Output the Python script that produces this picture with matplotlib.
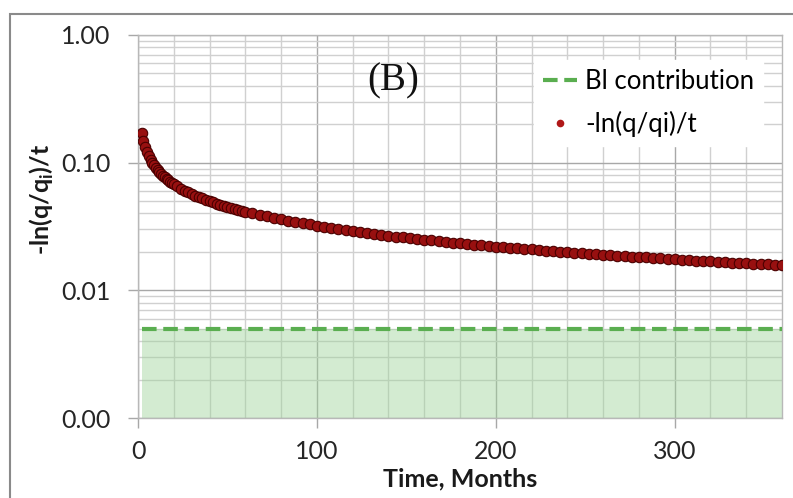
import matplotlib
matplotlib.use("Agg")
import matplotlib.pyplot as plt
from matplotlib.patches import Rectangle
from matplotlib.ticker import FixedLocator, FuncFormatter, LogLocator, NullFormatter

plt.rcParams["font.family"] = ["Lato", "DejaVu Sans"]
plt.rcParams["mathtext.fontset"] = "custom"
plt.rcParams["mathtext.bf"] = "Lato:bold"

# * Data
months = [
    2, 3, 4, 5, 6, 7, 8, 9, 10, 11, 12, 13, 14, 15, 16, 17, 18, 19, 20,
    22, 24, 26, 28, 30, 32, 34, 36, 38, 40, 42, 44, 46, 48, 50, 52, 54, 56, 58, 60,
    64, 68, 72, 76, 80, 84, 88, 92, 96, 100, 104, 108, 112, 116, 120,
    124, 128, 132, 136, 140, 144, 148, 152, 156, 160, 164, 168, 172, 176, 180,
    184, 188, 192, 196, 200, 204, 208, 212, 216, 220, 224, 228, 232, 236, 240,
    244, 248, 252, 256, 260, 264, 268, 272, 276, 280, 284, 288, 292, 296, 300,
    304, 308, 312, 316, 320, 324, 328, 332, 336, 340, 344, 348, 352, 356, 360,
]
decline_rate = [
    0.1710, 0.1473, 0.1320, 0.1210, 0.1125, 0.1057, 0.1001, 0.0953, 0.0912, 0.0877,
    0.0845, 0.0817, 0.0791, 0.0768, 0.0747, 0.0728, 0.0710, 0.0694, 0.0678,
    0.0651, 0.0627, 0.0605, 0.0585, 0.0568, 0.0552, 0.0537, 0.0524, 0.0511, 0.0499,
    0.0488, 0.0478, 0.0468, 0.0459, 0.0451, 0.0443, 0.0435, 0.0427, 0.0420, 0.0414,
    0.0401, 0.0389, 0.0379, 0.0369, 0.0359, 0.0351, 0.0342, 0.0335, 0.0328, 0.0321,
    0.0314, 0.0308, 0.0302, 0.0297, 0.0291, 0.0286, 0.0281, 0.0277, 0.0272, 0.0268,
    0.0264, 0.0260, 0.0256, 0.0253, 0.0249, 0.0246, 0.0243, 0.0239, 0.0236, 0.0233,
    0.0231, 0.0228, 0.0225, 0.0223, 0.0220, 0.0218, 0.0215, 0.0213, 0.0211, 0.0209,
    0.0207, 0.0204, 0.0202, 0.0201, 0.0199, 0.0197, 0.0195, 0.0193, 0.0192, 0.0190,
    0.0188, 0.0187, 0.0185, 0.0184, 0.0182, 0.0181, 0.0179, 0.0178, 0.0176, 0.0175,
    0.0174, 0.0172, 0.0171, 0.0170, 0.0169, 0.0168, 0.0166, 0.0165, 0.0164, 0.0163,
    0.0162, 0.0161, 0.0160, 0.0159, 0.0158,
]
bi_contribution = 0.005
y_ticks = [0.001, 0.01, 0.1, 1.0]
x_ticks = [0, 100, 200, 300]

fig = plt.figure(figsize=(7.93, 4.98), dpi=100)
ax = fig.add_axes([138 / 793, 80 / 498, 644 / 793, 383 / 498])

# * Frame around the whole picture
fig.patches.append(Rectangle((10 / 793, -0.1), 1.2, (498 - 14) / 498 + 0.1,
                             transform=fig.transFigure, fill=False,
                             edgecolor="#8a8a8a", linewidth=1.5))

# * BI contribution band + dashed line
bi_line = [bi_contribution] * len(months)
ax.fill_between(months, 0.001, bi_line, color="#9fd49a", alpha=0.45, linewidth=0, zorder=1)
ax.plot(months, bi_line, color="#5aae50", linewidth=3, dashes=(3.5, 1.6),
        label="Bl contribution", zorder=3)

# * -ln(q/qi)/t series
ax.plot(months, decline_rate, linestyle="none", marker="o", markersize=7.5,
        markerfacecolor="#981010", markeredgecolor="#4a0000", markeredgewidth=0.8,
        label="-ln(q/qi)/t", zorder=4)

ax.set_yscale("log")
ax.set_ylim(0.001, 1.0)
ax.set_xlim(0, 360)

ax.yaxis.set_major_locator(FixedLocator(y_ticks))
ax.yaxis.set_major_formatter(FuncFormatter(lambda v, p: f"{v:.2f}"))
ax.yaxis.set_minor_locator(LogLocator(base=10, subs=range(2, 10)))
ax.yaxis.set_minor_formatter(NullFormatter())
ax.xaxis.set_major_locator(FixedLocator(x_ticks))
ax.xaxis.set_minor_locator(FixedLocator(range(20, 360, 20)))

ax.grid(which="major", color="#a8a8a8", linewidth=1.0, zorder=0)
ax.grid(which="minor", color="#d0d0d0", linewidth=1.0, zorder=0)
ax.set_axisbelow(True)

ax.tick_params(which="major", direction="out", length=7, width=1, color="#a8a8a8",
               labelsize=18, labelcolor="#262626")
ax.tick_params(axis="y", pad=13)
ax.tick_params(axis="x", pad=9)
ax.tick_params(which="minor", length=0)
for s in ax.spines.values():
    s.set_color("#b8b8b8")
    s.set_linewidth(1)

ax.set_xlabel("Time, Months", fontsize=18, fontweight="bold", color="#1a1a1a", labelpad=3)
ax.set_ylabel(r"-ln(q/q$_{\mathbf{i}}$)/t", fontsize=18, fontweight="bold",
              color="#1a1a1a")
ax.yaxis.set_label_coords((56 - 138) / 644, (498 - 199 - 80) / 383)

ax.text((393 - 138) / 644, (498 - 81 - 80) / 383, "(B)", transform=ax.transAxes,
        ha="center", va="center", fontsize=28, family="Liberation Serif", color="#111111")

leg = ax.legend(loc="upper right", bbox_to_anchor=(1 - 6 / 644, 1 - 12 / 383),
                fontsize=18.5, numpoints=1, handlelength=1.35, handletextpad=0.3,
                labelspacing=0.65, borderpad=0.35, frameon=True, fancybox=False)
leg.get_frame().set_facecolor("white")
leg.get_frame().set_edgecolor("white")
leg.get_frame().set_alpha(1)
leg.legend_handles[1].set_markersize(5.5)
leg.legend_handles[1].set_markeredgewidth(0)
leg.legend_handles[1].set_markerfacecolor("#b01818")

fig.savefig("out.png", dpi=100)
